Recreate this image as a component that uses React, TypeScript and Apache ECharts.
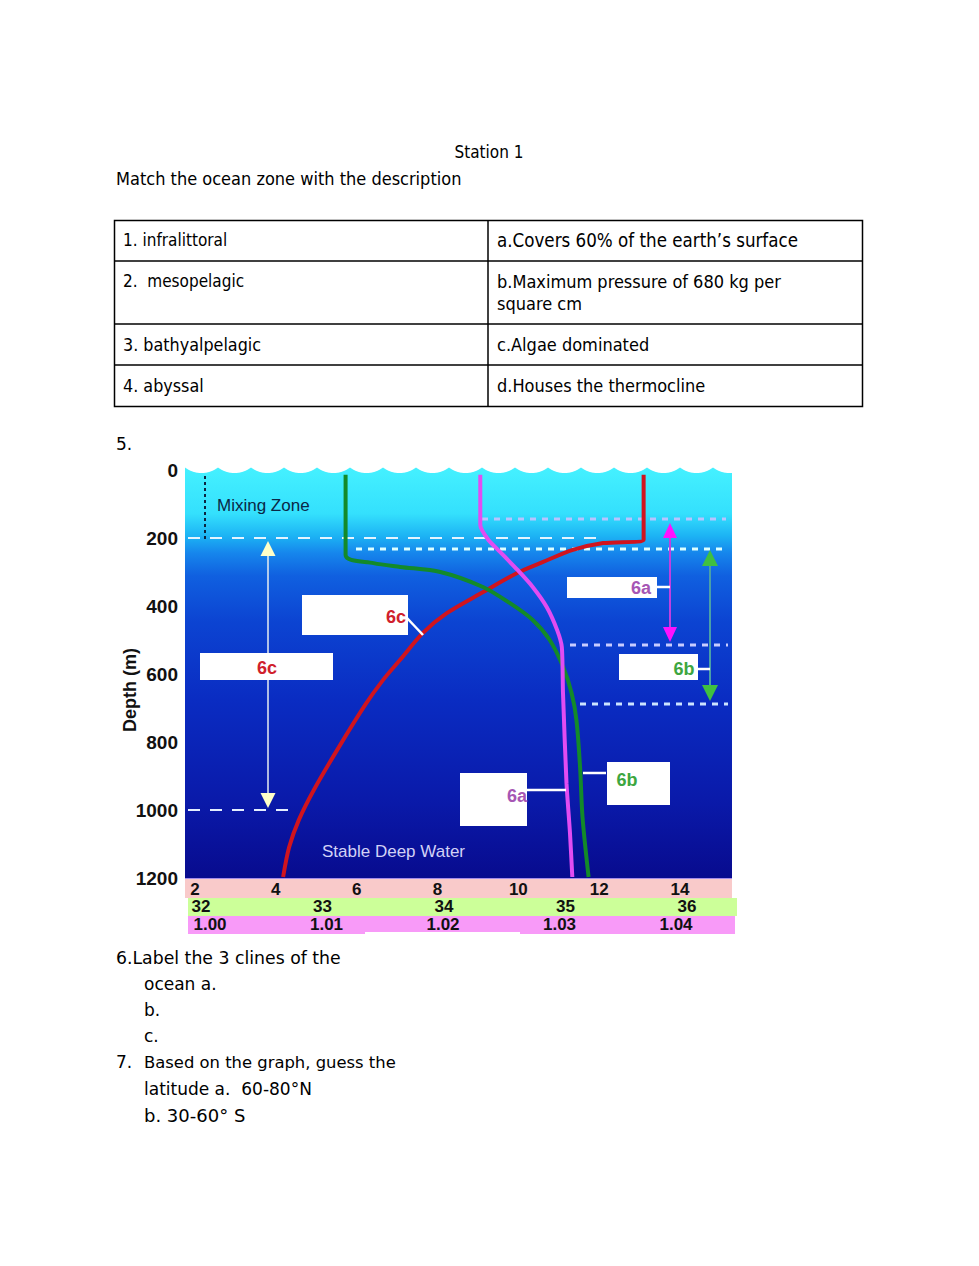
import React, { useEffect, useRef } from "react";
import * as echarts from "echarts";

// ---- Data ----
const depthTicks = [0, 200, 400, 600, 800, 1000, 1200];
const tempTicks = [2, 4, 6, 8, 10, 12, 14];
const salinityTicks = [32, 33, 34, 35, 36];
const densityTicks = [1.0, 1.01, 1.02, 1.03, 1.04];

// Temperature profile (°C) vs depth (m)
const tempDepth = [14, 205, 215, 235, 271, 303, 359, 421, 479, 559, 618, 691, 815, 941, 1029, 1109, 1197];
const tempValues = [13.1, 13.1, 12.1, 11.35, 10.6, 9.97, 9.13, 8.23, 7.64, 7.07, 6.65, 6.21, 5.56, 4.94, 4.57, 4.33, 4.18];

// Salinity profile (psu) vs depth (m)
const salDepth = [14, 250, 274, 285, 300, 344, 391, 441, 500, 579, 656, 735, 874, 1021, 1197];
const salValues = [33.19, 33.19, 33.42, 33.64, 33.97, 34.32, 34.54, 34.73, 34.87, 34.98, 35.05, 35.09, 35.12, 35.14, 35.19];

// Density profile (g/cm3) vs depth (m)
const denDepth = [14, 162, 206, 241, 294, 344, 403, 471, 521, 656, 921, 1068, 1197];
const denValues = [1.0232, 1.0232, 1.0239, 1.0249, 1.0264, 1.0277, 1.0289, 1.0298, 1.0302, 1.0303, 1.0306, 1.0309, 1.0311];

const tableRows = [
  ["1. infralittoral", "a.Covers 60% of the earth\u2019s surface"],
  ["2.  mesopelagic", "b.Maximum pressure of 680 kg per\nsquare cm"],
  ["3. bathyalpelagic", "c.Algae dominated"],
  ["4. abyssal", "d.Houses the thermocline"],
];

const COND = "'DejaVu Sans Condensed', 'DejaVu Sans', sans-serif";
const DJV = "'DejaVu Sans', sans-serif";
const ARIAL = "'Liberation Sans', Arial, sans-serif";

function txt(x: number, y: number, text: string, o: any = {}) {
  const align = o.align || "left";
  return {
    type: "text",
    x,
    y,
    rotation: o.rotation || 0,
    z: o.z ?? 20,
    style: {
      text,
      fill: o.color || "#000",
      fontSize: o.size || 17,
      fontFamily: o.family || COND,
      fontWeight: o.weight || "normal",
      textAlign: align,
      align,
      textVerticalAlign: "middle",
      verticalAlign: "middle",
    },
  };
}
function line(x1: number, y1: number, x2: number, y2: number, color: string, w: number, dash?: number[], z = 1) {
  return {
    type: "line",
    z,
    shape: { x1, y1, x2, y2 },
    style: { stroke: color, lineWidth: w, lineDash: dash, fill: null },
  };
}
function rect(x: number, y: number, w: number, h: number, fill: any, z = 10, stroke?: string, lw = 0) {
  return {
    type: "rect",
    z,
    shape: { x, y, width: w, height: h },
    style: { fill, stroke: stroke || null, lineWidth: lw },
  };
}
function tri(x: number, tipY: number, baseY: number, hw: number, fill: string, z = 6) {
  return {
    type: "polygon",
    z,
    shape: { points: [[x, tipY], [x - hw, baseY], [x + hw, baseY]] },
    style: { fill },
  };
}
function arrow(x: number, yTop: number, yBot: number, lc: string, hc: string, hw: number, hh: number, lw: number) {
  return [
    line(x, yTop + hh - 1, x, yBot - hh + 1, lc, lw, undefined, 5),
    tri(x, yTop, yTop + hh, hw, hc),
    tri(x, yBot, yBot - hh, hw, hc),
  ];
}

function wavePoints() {
  const pts: number[][] = [[183, 455]];
  const P = 33, s = 5.5, top = 467.5;
  const R = (P * P / 4 + s * s) / (2 * s);
  for (let x = 185; x <= 733; x += 1) {
    const u = ((x - 185) % P) - P / 2;
    const y = top + Math.sqrt(R * R - u * u) - (R - s);
    pts.push([x, y]);
  }
  pts.push([735, 455]);
  return pts;
}

export default function App() {
  const ref = useRef<HTMLDivElement>(null);
  useEffect(() => {
    if (!ref.current) return;
    const chart = echarts.init(ref.current, null, { renderer: "svg" });

    const graphics: any[] = [];
    // Document header
    graphics.push(txt(489, 152, "Station 1", { align: "center" }));
    graphics.push(txt(116, 178, "Match the ocean zone with the description", { size: 18 }));
    // Table
    graphics.push(rect(114.5, 220.5, 748, 186, null, 5, "#000", 1.5));
    graphics.push(line(488, 220, 488, 406, "#000", 1.5, undefined, 5));
    [261, 324, 365].forEach((y) => graphics.push(line(114, y, 862, y, "#000", 1.5, undefined, 5)));
    const rowY = [240, 281, 344, 385];
    const leftSize = [17, 17, 17.8, 17.8];
    const rightSize = [18.6, 18, 18, 18];
    tableRows.forEach((r, i) => {
      graphics.push(txt(123, rowY[i], r[0], { size: leftSize[i] }));
      const parts = r[1].split("\n");
      parts.forEach((p, j) => graphics.push(txt(497, rowY[i] + j * 22, p, { size: rightSize[i] })));
    });
    graphics.push(txt(116, 444, "5.", { family: DJV }));

    // Chart background
    graphics.push(
      rect(185, 464, 547, 414,
        new echarts.graphic.LinearGradient(0, 0, 0, 1, [
          { offset: 0, color: "#46f2ff" },
          { offset: 0.12, color: "#34e0fd" },
          { offset: 0.175, color: "#1cb2f4" },
          { offset: 0.215, color: "#1686ec" },
          { offset: 0.27, color: "#1060e0" },
          { offset: 0.38, color: "#0c44d2" },
          { offset: 0.57, color: "#0a2cc2" },
          { offset: 0.81, color: "#0a1aaa" },
          { offset: 1, color: "#080b8e" },
        ]), -10)
    );
    graphics.push({ type: "polygon", z: 1, shape: { points: wavePoints() }, style: { fill: "#ffffff" } });
    graphics.push(line(185, 878.5, 732, 878.5, "#a48ce8", 1, undefined, -5));
    // Bottom bands
    graphics.push(rect(185, 879, 547, 19, "#f9caca", -10));
    graphics.push(rect(188, 898, 549, 18, "#ccff99", -10));
    graphics.push(rect(188, 916, 547, 18, "#f89af8", -10));
    graphics.push(rect(365, 932, 155, 4, "#ffffff", -9));

    // Zone lines
    graphics.push(line(205, 476, 205, 540, "#0b2440", 2, [3, 3], 3));
    graphics.push(line(482, 519, 726, 519, "#b8c4ff", 3, [6, 6], 1));
    graphics.push(line(188, 538, 606, 538, "#e4f4ff", 2, [12, 10], 1));
    graphics.push(line(356, 549, 728, 549, "#dcffff", 3, [6, 6], 1));
    graphics.push(line(570, 645, 728, 645, "#c8ccff", 3, [6, 6], 1));
    graphics.push(line(580, 704, 728, 704, "#cce4ff", 3, [6, 6], 1));
    graphics.push(line(188, 810, 292, 810, "#e4eeff", 2, [12, 10], 1));

    // Arrows
    graphics.push(...arrow(268, 541, 808, "#e8eef0", "#ffffc8", 7.5, 15, 1.5));
    graphics.push(...arrow(670, 523, 642, "#c040e0", "#ff10ff", 7, 15, 2));
    graphics.push(...arrow(710, 550, 701, "#4aa0a8", "#40c040", 8, 16, 2));

    // Texts in chart
    graphics.push(txt(217, 505, "Mixing Zone", { family: ARIAL, size: 17, color: "#0a2846", z: 5 }));
    graphics.push(txt(322, 851, "Stable Deep Water", { family: ARIAL, size: 17, color: "#d2d2f6", z: 5 }));
    graphics.push(txt(130, 690, "Depth (m)", { family: ARIAL, size: 18, weight: "bold", color: "#111", align: "center", rotation: Math.PI / 2 }));

    // Label boxes & connectors
    const lab = { family: ARIAL, size: 18, weight: "bold", z: 12 };
    graphics.push(rect(567, 577, 90, 21, "#ffffff"));
    graphics.push(txt(641, 588, "6a", { ...lab, align: "center", color: "#a656b4" }));
    graphics.push(line(657, 587, 670, 587, "#ffffff", 2.5, undefined, 8));

    graphics.push(rect(619, 654, 79, 26, "#ffffff"));
    graphics.push(txt(684, 669, "6b", { ...lab, align: "center", color: "#3da640" }));
    graphics.push(line(698, 669, 710, 669, "#ffffff", 2.5, undefined, 8));

    graphics.push(rect(302, 595, 106, 40, "#ffffff"));
    graphics.push(txt(396, 617, "6c", { ...lab, align: "center", color: "#d0202c" }));
    graphics.push(line(407, 618, 423, 635, "#ffffff", 2.5, undefined, 8));

    graphics.push(rect(200, 653, 133, 27, "#ffffff"));
    graphics.push(txt(267, 668, "6c", { ...lab, align: "center", color: "#d0202c" }));

    graphics.push(rect(460, 773, 67, 53, "#ffffff"));
    graphics.push(txt(517, 796, "6a", { ...lab, align: "center", color: "#a656b4" }));
    graphics.push(line(527, 790, 566, 790, "#ffffff", 2.5, undefined, 8));

    graphics.push(rect(607, 762, 63, 43, "#ffffff"));
    graphics.push(txt(627, 780, "6b", { ...lab, align: "center", color: "#3da640" }));
    graphics.push(line(583, 773, 606, 773, "#ffffff", 2.5, undefined, 8));

    // Questions
    graphics.push(txt(116, 958, "6.Label the 3 clines of the", { family: DJV, size: 17.3 }));
    graphics.push(txt(144, 984, "ocean a.", { family: DJV }));
    graphics.push(txt(144, 1010, "b.", { family: DJV }));
    graphics.push(txt(144, 1036, "c.", { family: DJV }));
    graphics.push(txt(116, 1062, "7.", { family: DJV }));
    graphics.push(txt(144, 1062, "Based on the graph, guess the", { family: DJV, size: 16.4 }));
    graphics.push(txt(144, 1089, "latitude a.  60-80\u00b0N", { family: DJV }));
    graphics.push(txt(144, 1115, "b. 30-60\u00b0 S", { family: DJV, size: 18 }));

    const bandLabel = { fontSize: 17, fontWeight: "bold", color: "#111", fontFamily: ARIAL, showMinLabel: true, showMaxLabel: true };
    const hiddenY = (gi: number) => ({
      gridIndex: gi, type: "value", min: 0, max: 1200, inverse: true, show: false,
    });

    const option: any = {
      animation: false,
      backgroundColor: "#ffffff",
      grid: [
        { left: 185, top: 470, width: 547, height: 408 },
        { left: 195, top: 470, width: 485, height: 408 },
        { left: 201, top: 470, width: 486, height: 408 },
        { left: 210, top: 470, width: 466, height: 408 },
      ],
      xAxis: [
        { gridIndex: 0, type: "value", min: 0, max: 1, show: false },
        {
          gridIndex: 1, type: "value", min: tempTicks[0], max: tempTicks[tempTicks.length - 1], interval: 2,
          position: "bottom", axisLine: { show: false }, axisTick: { show: false }, splitLine: { show: false },
          axisLabel: { ...bandLabel, margin: 3 },
        },
        {
          gridIndex: 2, type: "value", min: salinityTicks[0], max: salinityTicks[salinityTicks.length - 1], interval: 1,
          position: "bottom", offset: 17, axisLine: { show: false }, axisTick: { show: false }, splitLine: { show: false },
          axisLabel: { ...bandLabel, margin: 3 },
        },
        {
          gridIndex: 3, type: "value", min: densityTicks[0], max: densityTicks[densityTicks.length - 1], interval: 0.01,
          position: "bottom", offset: 35, axisLine: { show: false }, axisTick: { show: false }, splitLine: { show: false },
          axisLabel: { ...bandLabel, margin: 3, formatter: (v: number) => v.toFixed(2) },
        },
      ],
      yAxis: [
        {
          gridIndex: 0, type: "value", min: depthTicks[0], max: depthTicks[depthTicks.length - 1], interval: 200, inverse: true,
          axisLine: { show: false }, axisTick: { show: false }, splitLine: { show: false },
          axisLabel: {
            margin: 7, fontSize: 19, fontWeight: "bold", color: "#111", fontFamily: ARIAL,
            showMinLabel: true, showMaxLabel: true, formatter: (v: number) => String(v),
          },
        },
        hiddenY(1), hiddenY(2), hiddenY(3),
      ],
      series: [
        {
          name: "Temperature", type: "line", xAxisIndex: 1, yAxisIndex: 1, symbol: "none", z: 3,
          smooth: 0.3,
          lineStyle: { color: "#d0141e", width: 4 }, clip: false,
          data: tempDepth.map((d, i) => [tempValues[i], d]),
        },
        {
          name: "Salinity", type: "line", xAxisIndex: 2, yAxisIndex: 2, symbol: "none", z: 3,
          smooth: 0.3,
          lineStyle: { color: "#138a2a", width: 4 }, clip: false,
          data: salDepth.map((d, i) => [salValues[i], d]),
        },
        {
          name: "Density", type: "line", xAxisIndex: 3, yAxisIndex: 3, symbol: "none", z: 3,
          smooth: 0.2,
          lineStyle: { color: "#e24cf2", width: 4 }, clip: false,
          data: denDepth.map((d, i) => [denValues[i], d]),
        },
      ],
      graphic: { elements: graphics },
    };
    chart.setOption(option);
    return () => chart.dispose();
  }, []);
  return (
    <div
      ref={ref}
      style={{ position: "absolute", left: 0, top: 0, width: 979, height: 1266, background: "#fff" }}
    />
  );
}
